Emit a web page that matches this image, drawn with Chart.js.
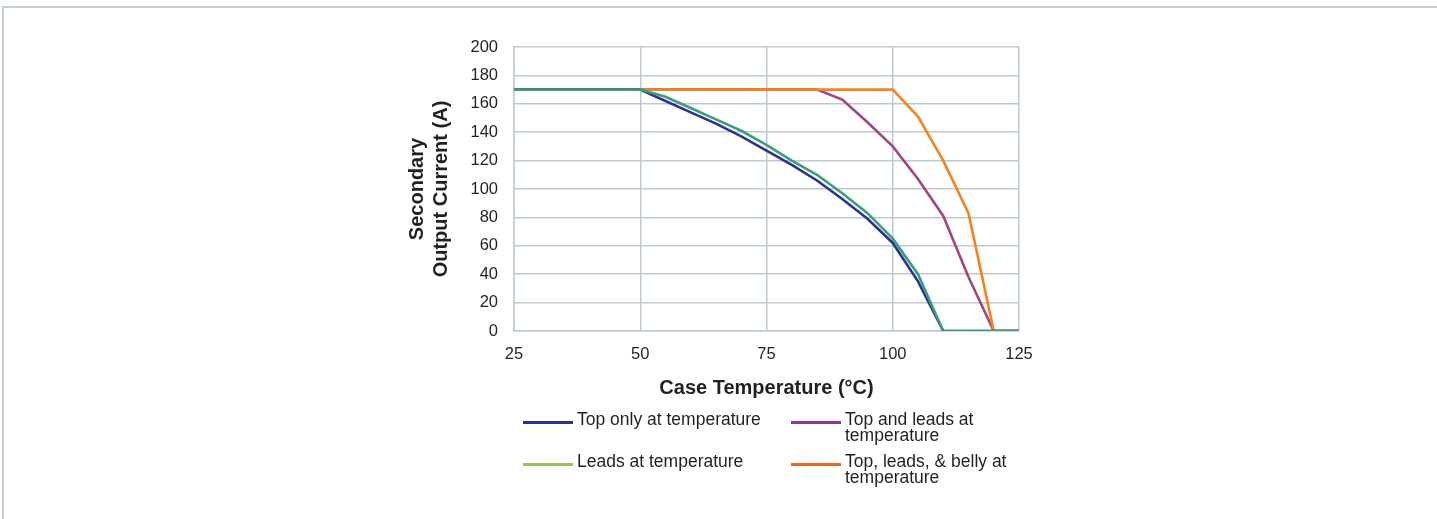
<!DOCTYPE html>
<html>
<head>
<meta charset="utf-8">
<script src="https://cdn.jsdelivr.net/npm/chart.js@4.4.0/dist/chart.umd.min.js"></script>
<style>
  html, body { margin:0; padding:0; background:#fff; width:1437px; height:519px; overflow:hidden; }
  #frame { position:absolute; left:2px; top:6px; width:1500px; height:600px; border-top:2px solid #c3d1d8; border-left:2px solid #c3d1d8; }
  #wrap { position:absolute; left:0; top:0; width:1437px; height:519px; }
  .leg { position:absolute; font-family:Arial, "Liberation Sans", Helvetica, sans-serif; font-size:17.5px; color:#231f20; line-height:15.5px; }
  .leg .sw { position:absolute; left:0; top:8.5px; width:50px; height:3px; }
  .leg .tx { position:absolute; left:54px; top:0; white-space:nowrap; }
</style>
</head>
<body>
<div id="frame"></div>
<div id="wrap"><canvas id="c" width="1437" height="519"></canvas></div>
<div id="legend"></div>
<script>
const temps = [25, 50, 55, 60, 65, 70, 75, 80, 85, 90, 95, 100, 105, 110, 115, 120, 125];
const topOnly      = [170, 170, 162, 154, 146, 137, 127, 117, 106, 93, 79, 62, 35, 0, 0, 0, 0];
const topAndLeads  = [170, 170, 170, 170, 170, 170, 170, 170, 170, 163, 147, 130, 107, 81, 38, 0, 0];
const leadsOnly    = [170, 170, 165, 157, 149, 141, 131, 120, 110, 97, 83, 65, 40, 0, 0, 0, 0];
const allSurfaces  = [170, 170, 170, 170, 170, 170, 170, 170, 170, 170, 170, 170, 151, 120, 83, 0, 0];
const seriesNames  = ["Top only at temperature", "Top and leads at temperature", "Leads at temperature", "Top, leads, & belly at temperature"];
const xTicks = [25, 50, 75, 100, 125];
const yTicks = [0, 20, 40, 60, 80, 100, 120, 140, 160, 180, 200];

const lineColors   = ["#2e3192", "#a3457e", "#3a9e78", "#f58220"];
const legendColors = ["#2e3192", "#8e3a84", "#9bc25a", "#e46c2a"];
const seriesData = [topOnly, topAndLeads, leadsOnly, allSurfaces];
const drawOrder = [1, 3, 0, 2];

const pts = arr => temps.map((t, i) => ({ x: t, y: arr[i] }));
const datasets = seriesData.map((arr, i) => ({
  label: seriesNames[i],
  data: pts(arr),
  borderColor: lineColors[i],
  backgroundColor: lineColors[i],
  borderWidth: 2.6,
  pointRadius: 0,
  tension: 0,
  fill: false,
  order: drawOrder[i]
}));

const gridColor = "#bccbd2";
const font = "Arial, 'Liberation Sans', Helvetica, sans-serif";

new Chart(document.getElementById('c'), {
  type: 'line',
  data: { datasets },
  options: {
    responsive: false,
    animation: false,
    layout: { padding: { left: 405, right: 418, top: 47, bottom: 119 } },
    plugins: { legend: { display: false }, tooltip: { enabled: false } },
    scales: {
      x: {
        type: 'linear', min: 25, max: 125,
        afterBuildTicks: s => { s.ticks = xTicks.map(v => ({ value: v })); },
        afterFit: s => { s.height = 69; },
        ticks: { font: { family: font, size: 16.5 }, color: '#231f20', padding: 14, maxRotation: 0 },
        grid: { color: gridColor, lineWidth: 1.5, drawTicks: false },
        border: { color: gridColor, width: 1.5 },
        title: { display: true, text: 'Case Temperature (°C)', font: { family: font, size: 20, weight: 'bold' }, color: '#231f20', padding: { top: 10, bottom: 0 } }
      },
      y: {
        type: 'linear', min: 0, max: 200,
        afterBuildTicks: s => { s.ticks = yTicks.map(v => ({ value: v })); },
        afterFit: s => { s.width = 109; },
        ticks: { font: { family: font, size: 16.5 }, color: '#231f20', padding: 16 },
        grid: { color: gridColor, lineWidth: 1.5, drawTicks: false },
        border: { color: gridColor, width: 1.5 },
        title: { display: true, text: ['Secondary', 'Output Current (A)'], font: { family: font, size: 20, weight: 'bold', lineHeight: 1.23 }, color: '#231f20', padding: 0 }
      }
    }
  }
});

// HTML legend built from series names / colours
const legendPos = [[523, 412], [791, 412], [523, 454], [791, 454]];
const wrapText = ["Top only at temperature", "Top and leads at<br>temperature", "Leads at temperature", "Top, leads, &amp; belly at<br>temperature"];
const leg = document.getElementById('legend');
seriesNames.forEach((n, i) => {
  const d = document.createElement('div');
  d.className = 'leg';
  d.style.left = legendPos[i][0] + 'px';
  d.style.top = legendPos[i][1] + 'px';
  d.innerHTML = '<div class="sw" style="background:' + legendColors[i] + '"></div><div class="tx">' + wrapText[i] + '</div>';
  leg.appendChild(d);
});
</script>
</body>
</html>
